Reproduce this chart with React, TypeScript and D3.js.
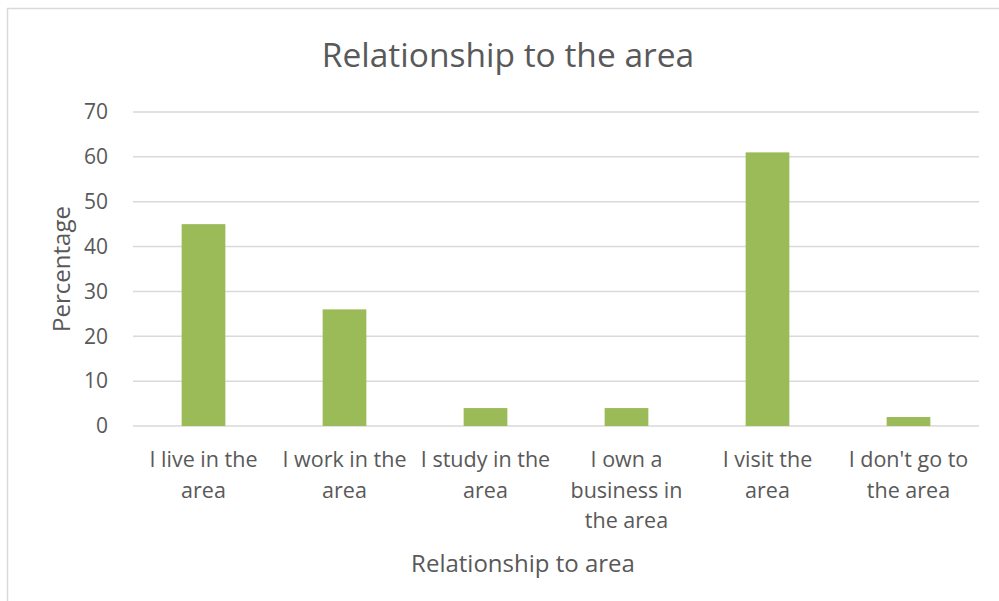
import { useEffect, useRef } from 'react';
import * as d3 from 'd3';

const categories = [
  ['I live in the', 'area'],
  ['I work in the', 'area'],
  ['I study in the', 'area'],
  ['I own a', 'business in', 'the area'],
  ['I visit the', 'area'],
  ["I don't go to", 'the area'],
];
const values = [45, 26, 4, 4, 61, 2];
const yTicks = [0, 10, 20, 30, 40, 50, 60, 70];

const TITLE = 'Relationship to the area';
const X_TITLE = 'Relationship to area';
const Y_TITLE = 'Percentage';

const FONT = '"Open Sans", Lato, sans-serif';
const TEXT_COLOR = '#595959';

export default function App() {
  const svgRef = useRef<SVGSVGElement | null>(null);

  useEffect(() => {
    if (!svgRef.current) return;
    const svg = d3.select(svgRef.current);
    svg.selectAll('*').remove();

    const width = 999;
    const height = 601;
    const plot = { left: 133, right: 979, top: 112, bottom: 426 };

    // chart frame (runs off the picture on the right and bottom)
    svg.append('rect')
      .attr('x', 7.5).attr('y', 8.5)
      .attr('width', width + 20).attr('height', height + 20)
      .attr('fill', '#fff')
      .attr('stroke', '#d9d9d9')
      .attr('stroke-width', 1.5);

    const idx = categories.map((_, i) => i);
    const x = d3.scaleBand<number>()
      .domain(idx)
      .range([plot.left, plot.right])
      .padding(0);
    const y = d3.scaleLinear()
      .domain([0, 70])
      .range([plot.bottom, plot.top]);

    // gridlines
    svg.append('g')
      .selectAll('line')
      .data(yTicks)
      .join('line')
      .attr('x1', plot.left)
      .attr('x2', plot.right)
      .attr('y1', d => y(d))
      .attr('y2', d => y(d))
      .attr('stroke', '#d9d9d9')
      .attr('stroke-width', 1.5);

    // y tick labels
    svg.append('g')
      .selectAll('text')
      .data(yTicks)
      .join('text')
      .attr('x', 108)
      .attr('y', d => y(d))
      .attr('dy', '0.35em')
      .attr('text-anchor', 'end')
      .attr('font-family', FONT)
      .attr('font-size', 21)
      .attr('fill', TEXT_COLOR)
      .text(d => d);

    // bars
    const barW = x.bandwidth() * 0.31;
    svg.append('g')
      .selectAll('rect')
      .data(values)
      .join('rect')
      .attr('x', (_, i) => (x(i) ?? 0) + (x.bandwidth() - barW) / 2)
      .attr('y', d => y(d))
      .attr('width', barW)
      .attr('height', d => y(0) - y(d))
      .attr('fill', '#9bbb59');

    // category labels
    const cat = svg.append('g')
      .selectAll('text')
      .data(categories)
      .join('text')
      .attr('text-anchor', 'middle')
      .attr('font-family', FONT)
      .attr('font-size', 21.5)
      .attr('fill', TEXT_COLOR);
    cat.each(function (lines, i) {
      const t = d3.select(this);
      const cx = (x(i) ?? 0) + x.bandwidth() / 2;
      lines.forEach((ln, j) => {
        t.append('tspan')
          .attr('x', cx)
          .attr('y', 467 + j * 30.5)
          .text(ln);
      });
    });

    // title
    svg.append('text')
      .attr('x', 508)
      .attr('y', 67)
      .attr('text-anchor', 'middle')
      .attr('font-family', FONT)
      .attr('font-size', 33.5)
      .attr('fill', TEXT_COLOR)
      .text(TITLE);

    // x axis title
    svg.append('text')
      .attr('x', 523)
      .attr('y', 572)
      .attr('text-anchor', 'middle')
      .attr('font-family', FONT)
      .attr('font-size', 24)
      .attr('fill', TEXT_COLOR)
      .text(X_TITLE);

    // y axis title
    svg.append('text')
      .attr('transform', `translate(70,${(plot.top + plot.bottom) / 2}) rotate(-90)`)
      .attr('text-anchor', 'middle')
      .attr('font-family', FONT)
      .attr('font-size', 24)
      .attr('fill', TEXT_COLOR)
      .text(Y_TITLE);
  }, []);

  return (
    <svg
      ref={svgRef}
      width={999}
      height={601}
      style={{ position: 'absolute', left: 0, top: 0, display: 'block', background: '#fff' }}
    />
  );
}
